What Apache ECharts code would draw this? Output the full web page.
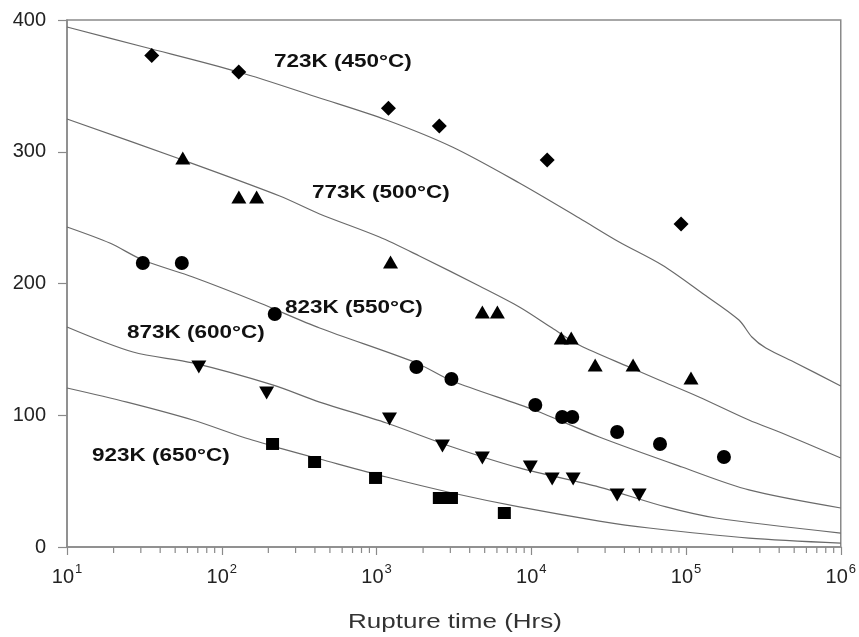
<!DOCTYPE html>
<html>
<head>
<meta charset="utf-8">
<script src="https://cdn.jsdelivr.net/npm/echarts@6/dist/echarts.min.js"></script>
<style>html,body{margin:0;padding:0;background:#fff}#c{width:859px;height:637px}</style>
</head>
<body>
<div id="c"></div>
<script>
// ---- measured data points (rupture time in hours, stress) ----
const t723 = [35.3, 128.8, 1194, 2547, 12680, 92900];
const s723 = [373, 360.5, 333, 319.5, 293.7, 245.2];

const t773 = [56, 129, 168, 1232, 4830, 6040, 15630, 18130, 25880, 45500, 107700];
const s773 = [295.3, 265.7, 265.7, 216.3, 178.4, 178.4, 158.6, 158.6, 138.1, 138.1, 128.3];

const t823 = [30.9, 55.2, 220, 1810, 3050, 10620, 15840, 18400, 35900, 67900, 175800];
const s823 = [215.6, 215.6, 176.8, 136.6, 127.5, 107.8, 98.7, 98.7, 87.3, 78.2, 68.3];

const t873 = [71.1, 195, 1213, 2668, 4830, 9860, 13650, 18650, 35900, 49800];
const s873 = [136.6, 116.9, 97.2, 76.7, 67.6, 60.7, 51.6, 51.6, 39.5, 39.5];

const t923 = [213, 398, 986, 2547, 3050, 6700];
const s923 = [78.2, 64.5, 52.4, 37.2, 37.2, 25.8];

// ---- fitted curves ----
const ct723 = [10, 31.4, 128.8, 429, 1160, 3090, 8375, 20400, 37000, 70000, 126800, 219800, 266500, 328000, 512500, 1000000];
const cs723 = [394.7, 379.5, 360.5, 340.8, 324.1, 303.6, 276.3, 249.7, 231.5, 214, 192.8, 172.3, 159.4, 151, 139.7, 122.2];

const ct773 = [10, 56, 237, 429, 1045, 1893, 4620, 8375, 13650, 20400, 42850, 67000, 121300, 254900, 416000, 1000000];
const cs773 = [324.9, 293.7, 266.4, 252.8, 235.3, 220.9, 198.1, 182.2, 166.2, 153.3, 136.6, 126.8, 113.9, 96.4, 86.5, 67.6];

const ct823 = [10, 18.9, 30.9, 65, 176, 429, 1810, 3090, 10450, 27500, 94200, 254900, 1000000];
const cs823 = [242.9, 230.7, 217.8, 204.9, 185.2, 166.2, 139.7, 126, 104, 83.5, 60.7, 43.3, 29.6];

const ct873 = [10, 26.7, 65, 213, 429, 1160, 3090, 8375, 27500, 74300, 156300, 1000000];
const cs873 = [167, 148, 139.7, 123, 110, 94.1, 75.9, 60, 45.5, 30.4, 22, 10.6];

const ct923 = [10, 24.4, 65, 136, 237, 429, 1160, 3090, 8375, 27500, 57700, 254900, 1000000];
const cs923 = [120.7, 110, 96.4, 83.5, 75.1, 66.8, 53.1, 41, 30.4, 19.7, 14.4, 6.8, 3.0];

const labels = ['723K (450°C)', '773K (500°C)', '823K (550°C)', '873K (600°C)', '923K (650°C)'];
const xTitle = 'Rupture time (Hrs)';
const yTicks = [0, 100, 200, 300, 400];
const minorTickValues = [];
for (let k = 1; k <= 5; k++) for (let m = 2; m <= 9; m++) minorTickValues.push(m * Math.pow(10, k));

const zip = (a, b) => a.map((v, i) => [v, b[i]]);
const FONT = 'Liberation Sans, Arial, sans-serif';

const chart = echarts.init(document.getElementById('c'), null, {renderer: 'canvas'});

function curve(t, s) {
  return {type: 'line', data: zip(t, s), showSymbol: false, symbol: 'none', smooth: 0.3,
    lineStyle: {color: '#6a6a6a', width: 1.2}, silent: true, z: 2};
}
function pts(t, s, symbol, size, rotate) {
  return {type: 'scatter', data: zip(t, s), symbol: symbol, symbolSize: size, symbolRotate: rotate || 0,
    itemStyle: {color: '#000', opacity: 1}, silent: true, z: 3};
}

const annot = [
  {x: 274, y: 62}, {x: 312, y: 193}, {x: 285, y: 308}, {x: 127, y: 333}, {x: 92, y: 456}
];

chart.setOption({
  animation: false,
  backgroundColor: '#fff',
  grid: {left: 67, right: 17, top: 20, bottom: 90, show: true, borderColor: '#8a8a8a', borderWidth: 1.5, backgroundColor: 'transparent'},
  xAxis: {
    type: 'log', logBase: 10, min: 10, max: 1000000,
    axisLine: {show: true, lineStyle: {color: '#8a8a8a', width: 1.5}},
    axisTick: {show: true, length: 8, lineStyle: {color: '#8a8a8a', width: 1.2}},
    splitLine: {show: false},
    axisLabel: {
      margin: 16, color: '#222', fontFamily: FONT, fontSize: 19,
      formatter: v => '{b|10}{sup|' + Math.round(Math.log10(v)) + '}',
      rich: {
        b: {fontSize: 20, fontFamily: FONT, color: '#222', lineHeight: 24, verticalAlign: 'bottom'},
        sup: {fontSize: 13, fontFamily: FONT, color: '#222', lineHeight: 24, verticalAlign: 'top', padding: [0, 0, 0, 1]}
      }
    }
  },
  yAxis: {
    type: 'value', min: 0, max: 400, interval: 100,
    axisLine: {show: true, lineStyle: {color: '#8a8a8a', width: 1.5}},
    axisTick: {show: true, length: 9, lineStyle: {color: '#8a8a8a', width: 1.2}},
    splitLine: {show: false},
    axisLabel: {margin: 21, color: '#222', fontFamily: FONT, fontSize: 20,
      formatter: v => yTicks.indexOf(v) >= 0 ? String(v) : ''}
  },
  series: [
    curve(ct723, cs723), curve(ct773, cs773), curve(ct823, cs823), curve(ct873, cs873), curve(ct923, cs923),
    pts(t723, s723, 'diamond', 15),
    pts(t773, s773, 'triangle', [15, 13]),
    pts(t823, s823, 'circle', 14),
    pts(t873, s873, 'triangle', [15, 13], 180),
    pts(t923, s923, 'rect', [13, 12]),
    {
      type: 'custom', silent: true, clip: false, z: 1,
      data: minorTickValues.map(v => [v, 0]),
      renderItem: (params, api) => {
        const p = api.coord([api.value(0), 0]);
        return {type: 'line', shape: {x1: p[0], y1: p[1], x2: p[0], y2: p[1] + 6},
          style: {stroke: '#8a8a8a', lineWidth: 1.2}};
      }
    }
  ],
  graphic: annot.map((a, i) => ({
    type: 'text', x: a.x, y: a.y, scaleX: 1.25, silent: true, z: 10,
    style: {text: labels[i], fontFamily: FONT, fontSize: 18, fontWeight: 'bold', fill: '#111',
      align: 'left', verticalAlign: 'middle', textAlign: 'left', textVerticalAlign: 'middle'}
  })).concat([{
    type: 'text', x: 455, y: 622, scaleX: 1.3, silent: true, z: 10,
    style: {text: xTitle, fontFamily: FONT, fontSize: 20, fill: '#333',
      align: 'center', verticalAlign: 'middle', textAlign: 'center', textVerticalAlign: 'middle'}
  }])
});
</script>
</body>
</html>
